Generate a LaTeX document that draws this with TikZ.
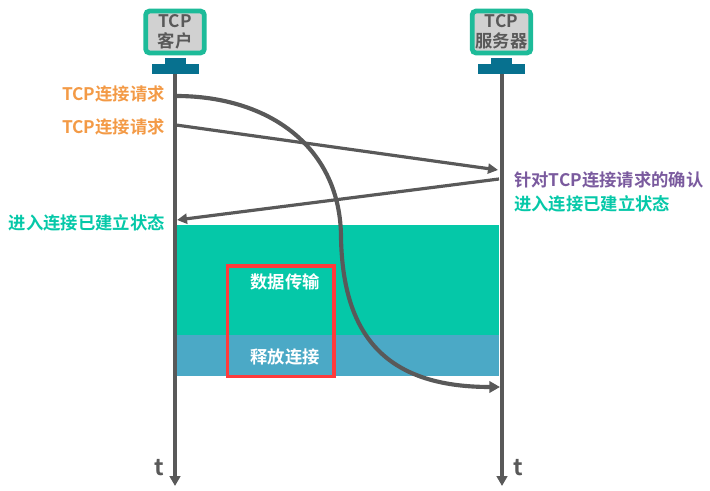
\documentclass[tikz,border=0pt]{standalone}
\usepackage{fontspec}
\setmainfont{Noto Sans CJK SC}[BoldFont={Noto Sans CJK SC Bold}]
\usetikzlibrary{arrows.meta}
\definecolor{lineg}{HTML}{595959}
\definecolor{teal1}{HTML}{05C8A8}
\definecolor{blue1}{HTML}{4BA9C6}
\definecolor{orange1}{HTML}{F39A46}
\definecolor{purple1}{HTML}{7A5A9E}
\definecolor{base1}{HTML}{07718F}
\definecolor{frame1}{HTML}{1DBB99}
\definecolor{red1}{HTML}{FF3B3B}
\tikzset{
  axisline/.style={draw=lineg,line width=2.6pt,-{Triangle[length=7.5pt,width=8pt]}},
  msgline/.style={draw=lineg,line width=2.4pt,-{Triangle[length=7.5pt,width=7.5pt]}},
  curveline/.style={draw=lineg,line width=3.1pt,-{Triangle[length=8pt,width=8.5pt]}},
  screen/.style={draw=frame1,line width=3.6pt,fill=black!18,rounded corners=3pt,minimum width=44pt,minimum height=31.5pt,inner sep=0pt,align=center,text=lineg,font=\bfseries\fontsize{13}{15}\selectfont},
  basebar/.style={fill=base1,draw=none},
  lbl/.style={font=\bfseries\fontsize{13}{15}\selectfont,inner sep=0pt},
  axlabel/.style={font=\bfseries\fontsize{17}{18}\selectfont,text=lineg,inner sep=0pt}
}
\begin{document}
\begin{tikzpicture}[x=0.75pt,y=-0.75pt]
\useasboundingbox (0,0) rectangle (710,491);
% bands
\fill[teal1] (177,225) rectangle (499,335);
\fill[blue1] (177,335) rectangle (499,376);
% stands
\fill[basebar] (165,58) rectangle (186,64);
\fill[basebar] (152,64) rectangle (199,74);
\fill[basebar] (491,58) rectangle (512,64);
\fill[basebar] (478,64) rectangle (525,74);
% hosts
\node[screen] (client) at (175,32) {TCP\\客户};
\node[screen] (server) at (501.5,32) {TCP\\服务器};
% axes
\coordinate (ctop) at (175,74);
\coordinate (cend) at (175,486);
\coordinate (stop) at (502,74);
\coordinate (send) at (502,486);
\draw[axisline] (ctop) -- (cend);
\draw[axisline] (stop) -- (send);
% messages
\coordinate (m1) at (176,125);
\coordinate (m2) at (498,170);
\coordinate (m3) at (499,179);
\coordinate (m4) at (177,220);
\coordinate (c1) at (176,96);
\coordinate (c2) at (500,387);
\draw[msgline] (m1) -- (m2);
\draw[msgline] (m3) -- (m4);
\draw[curveline] (c1) .. controls (270,96) and (341,148) .. (341,238)
  .. controls (343,335) and (385,387) .. (c2);
% red box
\draw[draw=red1,line width=2.4pt] (227.5,266) rectangle (334,376.5);
% labels
\node[lbl,text=white] (dt) at (285,281.5) {数据传输};
\node[lbl,text=white] (rel) at (285,357) {释放连接};
\node[lbl,text=orange1,anchor=east] (r1) at (165,94) {TCP连接请求};
\node[lbl,text=orange1,anchor=east] (r2) at (165,127) {TCP连接请求};
\node[lbl,text=teal1,anchor=east] (e1) at (165,223) {进入连接已建立状态};
\node[lbl,text=purple1,anchor=west] (ack) at (514,180) {针对TCP连接请求的确认};
\node[lbl,text=teal1,anchor=west] (e2) at (514,204) {进入连接已建立状态};
\node[axlabel] (t1) at (159,468) {t};
\node[axlabel] (t2) at (518,468) {t};
\end{tikzpicture}
\end{document}
